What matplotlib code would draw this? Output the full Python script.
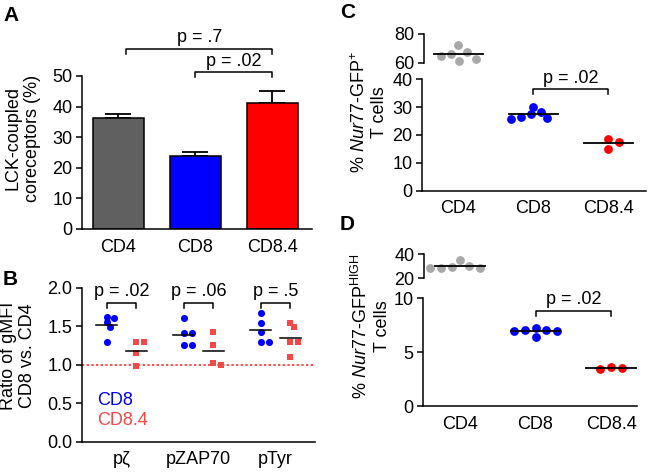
import numpy as np
import matplotlib
matplotlib.use("Agg")
import matplotlib.pyplot as plt
from matplotlib.ticker import FormatStrFormatter

plt.rcParams['font.family'] = ['Liberation Sans', 'DejaVu Sans']
plt.rcParams['font.size'] = 13
plt.rcParams['mathtext.fontset'] = 'custom'
plt.rcParams['mathtext.rm'] = 'Liberation Sans'
plt.rcParams['mathtext.it'] = 'Liberation Sans:italic'
plt.rcParams['mathtext.bf'] = 'Liberation Sans:bold'

# ---- data ----
cells = ["CD4", "CD8", "CD8.4"]

# A: LCK-coupled coreceptors (%), mean + SEM
lck_mean = [36.2, 23.9, 41.1]
lck_sem = [1.4, 1.4, 4.1]

# B: ratio of gMFI CD8 vs CD4
phospho = ["p\u03b6", "pZAP70", "pTyr"]
ratio_cd8 = [[1.62, 1.60, 1.55, 1.49, 1.30],
             [1.60, 1.41, 1.41, 1.26, 1.26],
             [1.67, 1.54, 1.42, 1.30, 1.30]]
ratio_cd84 = [[1.30, 1.30, 1.15, 0.98],
              [1.42, 1.26, 1.02, 1.00],
              [1.545, 1.49, 1.30, 1.30, 1.10]]
p_b = ["p = .02", "p = .06", "p = .5"]

# C: % Nur77-GFP+ T cells
gfp_pos = {"CD4": [72.1, 67.6, 66.2, 65.0, 62.6, 60.9],
           "CD8": [30.0, 28.3, 27.6, 26.5, 26.2, 25.7],
           "CD8.4": [18.4, 17.5, 15.1]}

# D: % Nur77-GFP high T cells
gfp_high = {"CD4": [35.5, 30.2, 29.6, 29.0, 29.0, 29.0],
            "CD8": [7.22, 7.06, 7.06, 6.94, 6.94, 6.39],
            "CD8.4": [3.61, 3.55, 3.43]}

BLUE = "#0000ff"
RED = "#ff0000"
GRAY = "#a8a8a8"
LRED = "#f24848"

W, H = 650, 472
fig = plt.figure(figsize=(6.5, 4.72), dpi=100)


def px_axes(x0, x1, ytop, ybot):
    return fig.add_axes([x0 / W, 1 - ybot / H, (x1 - x0) / W, (ybot - ytop) / H])


def style(ax):
    for s in ["top", "right"]:
        ax.spines[s].set_visible(False)
    for s in ["left", "bottom"]:
        ax.spines[s].set_linewidth(1.1)
    ax.tick_params(axis="y", length=4.3, width=1.1, pad=2.5, labelsize=13)
    ax.tick_params(axis="x", length=0, pad=7, labelsize=13)


def top_segment(ax):
    for s in ["top", "right", "bottom"]:
        ax.spines[s].set_visible(False)
    ax.spines["left"].set_linewidth(1.1)
    ax.set_xticks([])
    ax.tick_params(axis="y", length=4.3, width=1.1, pad=2.5, labelsize=13)
    ax.patch.set_alpha(0)


def swarm(ax, vals, d, yfac=1.6):
    """beeswarm x-offsets (data units); vertical gaps count yfac times more"""
    t = ax.transData
    vals = np.asarray(vals, float)
    ypx = t.transform(np.column_stack([np.zeros(len(vals)), vals]))[:, 1] * yfac
    xs = t.transform([[1, 0]])[0, 0] - t.transform([[0, 0]])[0, 0]
    offs = np.zeros(len(vals))
    placed = []
    for i in np.argsort(-vals, kind="stable"):
        bad = []
        for xp, yp in placed:
            dy = abs(ypx[i] - yp)
            if dy < d:
                w = np.sqrt(d * d - dy * dy)
                bad.append((xp - w, xp + w))
        cands = sorted([0.0] + [b for iv in bad for b in iv], key=lambda c: (abs(c), -c))
        x = 0.0
        for c in cands:
            if all(not (lo + 1e-6 < c < hi - 1e-6) for lo, hi in bad):
                x = c
                break
        placed.append((x, ypx[i]))
        offs[i] = x / xs
    return offs


def bracket(ax, x1, x2, y, h, label):
    ax.plot([x1, x1, x2, x2], [y - h, y, y, y - h], color="k", lw=1.1, clip_on=False)
    ax.annotate(label, xy=((x1 + x2) / 2, y), xytext=(0, 2), textcoords="offset points",
                ha="center", va="bottom", fontsize=13, annotation_clip=False)


# ---- A ----
axA = px_axes(82, 312, 76, 229)
x = np.arange(len(cells))
axA.bar(x, lck_mean, width=0.66, color=["#606060", BLUE, RED], edgecolor="k",
        linewidth=1.1, zorder=2)
axA.errorbar(x, lck_mean, yerr=[np.zeros(3), lck_sem], fmt="none", ecolor="k",
             elinewidth=1.3, capsize=9.4, capthick=1.3, zorder=1)
axA.set_xlim(-0.474, 2.513)
axA.set_ylim(0, 50)
axA.set_yticks(range(0, 51, 10))
axA.set_xticks(x, cells)
style(axA)
bracket(axA, 0.1, 2, 58.8, 1.6, "p = .7")
bracket(axA, 1, 2, 51.2, 1.6, "p = .02")
fig.text(23 / W, 1 - 138 / H, "LCK-coupled\ncoreceptors (%)", rotation=90,
         ha="center", va="center", multialignment="center", fontsize=13)

# ---- B ----
axB = px_axes(82, 315, 287.7, 441.5)
axB.set_xlim(-0.513, 2.513)
axB.set_ylim(0, 2.0)
axB.set_yticks(np.arange(0, 2.01, 0.5))
axB.yaxis.set_major_formatter(FormatStrFormatter("%.1f"))
axB.set_xticks(np.arange(3), phospho)
style(axB)
axB.axhline(1.0, color="#ff4d4d", ls=(0, (1.2, 1.2)), lw=1.4, zorder=1)
for i in range(3):
    for vals, sgn, col, mk, sz in [(ratio_cd8[i], -1, BLUE, "o", 26),
                                   (ratio_cd84[i], 1, LRED, "s", 24)]:
        xc = i + sgn * 0.19
        axB.scatter(xc + swarm(axB, vals, 8), vals, s=sz, marker=mk, color=col,
                    linewidths=0, zorder=3)
        m = np.mean(vals)
        axB.plot([xc - 0.135, xc + 0.135], [m, m], color="k", lw=1.1, zorder=4)
    bracket(axB, i - 0.19, i + 0.19, 1.805, 0.074, p_b[i])
axB.text(-0.32, 0.53, "CD8", color=BLUE, va="center", fontsize=13)
axB.text(-0.32, 0.27, "CD8.4", color=LRED, va="center", fontsize=13)
fig.text(18 / W, 1 - 356 / H, "Ratio of gMFI\nCD8 vs. CD4", rotation=90,
         ha="center", va="center", multialignment="center", fontsize=13)


# ---- C / D (broken axes) ----
def broken_panel(data, low, top, ylow, ytop, lowticks, topticks, xlim_low, xlim_top, brk):
    axl = px_axes(*low)
    axt = px_axes(*top)
    axl.set_xlim(*xlim_low)
    axt.set_xlim(*xlim_top)
    axl.set_ylim(*ylow)
    axt.set_ylim(*ytop)
    axl.set_yticks(lowticks)
    axt.set_yticks(topticks)
    axl.set_xticks(np.arange(3), cells)
    style(axl)
    top_segment(axt)
    colors = [GRAY, BLUE, RED]
    for i, c in enumerate(cells):
        vals = data[c]
        on_top = min(vals) > ylow[1]
        ax = axt if on_top else axl
        offs = swarm(ax, vals, 11, yfac=1.0 if on_top else 1.6)
        ax.scatter(i + offs, vals, s=40, color=colors[i], linewidths=0,
                   zorder=3, clip_on=False)
        m = np.mean(vals)
        ax.plot([i - 0.33, i + 0.33], [m, m], color="k", lw=1.3, zorder=4, clip_on=False)
    bracket(axl, 1, 2, brk[0], brk[1], "p = .02")
    return axl, axt


broken_panel(gfp_pos, (421.7, 646, 79.3, 190.5), (424, 646, 34, 62.7), (0, 40), (60, 80),
             range(0, 41, 10), [60, 80], (-0.49, 2.5), (-0.46, 2.5), (36.4, 1.8))
fig.text(369 / W, 1 - 112 / H, "% $\\mathit{Nur77}$-GFP$^{+}$\nT cells", rotation=90,
         ha="center", va="center", multialignment="center", fontsize=13)

broken_panel(gfp_high, (422.7, 637, 298.3, 406.3), (424, 637, 254.3, 278.3), (0, 10), (20, 40),
             [0, 5, 10], [20, 40], (-0.494, 2.344), (-0.477, 2.344), (8.8, 0.46))
fig.text(371 / W, 1 - 326 / H, "% $\\mathit{Nur77}$-GFP$^{\\mathrm{HIGH}}$\nT cells", rotation=90,
         ha="center", va="center", multialignment="center", fontsize=13)

# panel letters
for lab, px, py in [("A", 3, 6), ("B", 3, 270), ("C", 340, 3), ("D", 340, 215)]:
    fig.text(px / W, 1 - py / H, lab, fontsize=15, fontweight="bold", ha="left", va="top")

fig.savefig("out.png", dpi=100)
